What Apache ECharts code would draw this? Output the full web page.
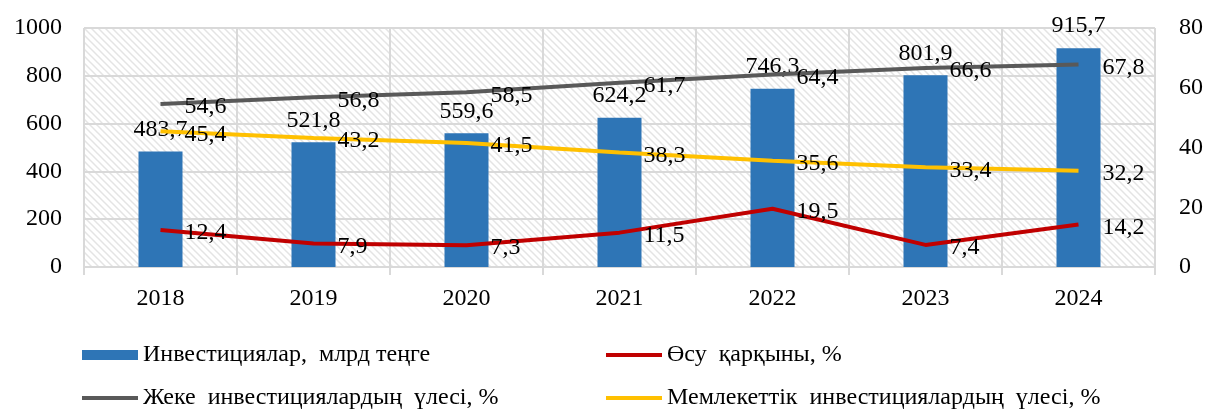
<!DOCTYPE html>
<html>
<head>
<meta charset="utf-8">
<script src="https://cdn.jsdelivr.net/npm/echarts@6/dist/echarts.min.js"></script>
<style>
html,body{margin:0;padding:0;background:#fff;}
#chart{width:1218px;height:413px;}
</style>
</head>
<body>
<div id="chart"></div>
<script>
const years = ['2018','2019','2020','2021','2022','2023','2024'];
const investments = [483.7, 521.8, 559.6, 624.2, 746.3, 801.9, 915.7];
const growthRate = [12.4, 7.9, 7.3, 11.5, 19.5, 7.4, 14.2];
const privateShare = [54.6, 56.8, 58.5, 61.7, 64.4, 66.6, 67.8];
const stateShare = [45.4, 43.2, 41.5, 38.3, 35.6, 33.4, 32.2];

const seriesNames = {
  inv: 'Инвестициялар,  млрд теңге',
  growth: 'Өсу  қарқыны, %',
  priv: 'Жеке  инвестициялардың  үлесі, %',
  state: 'Мемлекеттік  инвестициялардың  үлесі, %'
};

const FONT = '"Liberation Serif", "Times New Roman", serif';

// hatch pattern
const T = 7;
const tile = document.createElement('canvas');
tile.width = T; tile.height = T;
const ctx = tile.getContext('2d');
ctx.fillStyle = '#ffffff';
ctx.fillRect(0, 0, T, T);
ctx.strokeStyle = '#e4e4e4';
ctx.lineWidth = 1.5;
ctx.beginPath();
ctx.moveTo(-1, -1); ctx.lineTo(T + 1, T + 1);
ctx.moveTo(-1, T - 1); ctx.lineTo(1, T + 1);
ctx.moveTo(T - 1, -1); ctx.lineTo(T + 1, 1);
ctx.stroke();

const fmt = v => String(v).replace('.', ',');
const LINE_ICON = 'path://M0,0H56V4H0Z';

const lineLabel = {
  show: true,
  position: 'right',
  distance: 24,
  offset: [0, 3],
  color: '#000',
  fontFamily: FONT,
  fontSize: 24,
  formatter: p => fmt(p.value)
};

const legendText = {fontFamily: FONT, fontSize: 24, color: '#000', lineHeight: 26};

const chart = echarts.init(document.getElementById('chart'), null, {renderer: 'canvas'});
chart.setOption({
  animation: false,
  backgroundColor: '#ffffff',
  textStyle: {fontFamily: FONT},
  grid: {
    left: 84, right: 63, top: 28, bottom: 146,
    show: true,
    borderWidth: 0,
    backgroundColor: {image: tile, repeat: 'repeat'}
  },
  legend: [
    {
      left: 82, top: 342, orient: 'vertical', itemGap: 17, padding: 0,
      itemWidth: 56, itemHeight: 10, symbolKeepAspect: true,
      textStyle: legendText,
      data: [{name: seriesNames.inv, icon: 'rect'}, {name: seriesNames.priv, icon: LINE_ICON}]
    },
    {
      left: 606, top: 342, orient: 'vertical', itemGap: 17, padding: 0,
      itemWidth: 56, itemHeight: 10, symbolKeepAspect: true,
      textStyle: legendText,
      data: [{name: seriesNames.growth, icon: LINE_ICON}, {name: seriesNames.state, icon: LINE_ICON}]
    }
  ],
  xAxis: {
    type: 'category',
    data: years,
    boundaryGap: true,
    axisLine: {show: true, lineStyle: {color: '#d9d9d9', width: 2}},
    axisTick: {show: true, length: 8, lineStyle: {color: '#d9d9d9', width: 2}},
    axisLabel: {color: '#000', fontFamily: FONT, fontSize: 24, margin: 20},
    splitLine: {show: true, lineStyle: {color: '#d9d9d9', width: 2}}
  },
  yAxis: [
    {
      type: 'value', min: 0, max: 1000, interval: 200,
      axisLine: {show: false}, axisTick: {show: false},
      axisLabel: {color: '#000', fontFamily: FONT, fontSize: 24, margin: 22, formatter: v => String(v)},
      splitLine: {show: true, lineStyle: {color: '#d9d9d9', width: 2}}
    },
    {
      type: 'value', min: 0, max: 80, interval: 20,
      axisLine: {show: false}, axisTick: {show: false},
      axisLabel: {color: '#000', fontFamily: FONT, fontSize: 24, margin: 24, formatter: v => String(v)},
      splitLine: {show: false}
    }
  ],
  series: [
    {
      name: seriesNames.inv, type: 'bar', yAxisIndex: 0,
      data: investments, barWidth: 44,
      itemStyle: {color: '#2e75b6'},
      label: {show: true, position: 'top', distance: 10, color: '#000', fontFamily: FONT, fontSize: 24, formatter: p => fmt(p.value)},
      z: 2
    },
    {
      name: seriesNames.growth, type: 'line', yAxisIndex: 1,
      data: growthRate, showSymbol: true, symbol: 'circle', symbolSize: 0,
      lineStyle: {color: '#c00000', width: 4},
      itemStyle: {color: '#c00000'},
      label: lineLabel, z: 3
    },
    {
      name: seriesNames.priv, type: 'line', yAxisIndex: 1,
      data: privateShare, showSymbol: true, symbol: 'circle', symbolSize: 0,
      lineStyle: {color: '#595959', width: 4},
      itemStyle: {color: '#595959'},
      label: lineLabel, z: 3
    },
    {
      name: seriesNames.state, type: 'line', yAxisIndex: 1,
      data: stateShare, showSymbol: true, symbol: 'circle', symbolSize: 0,
      lineStyle: {color: '#ffc000', width: 4},
      itemStyle: {color: '#ffc000'},
      label: lineLabel, z: 3
    }
  ]
});
</script>
</body>
</html>
